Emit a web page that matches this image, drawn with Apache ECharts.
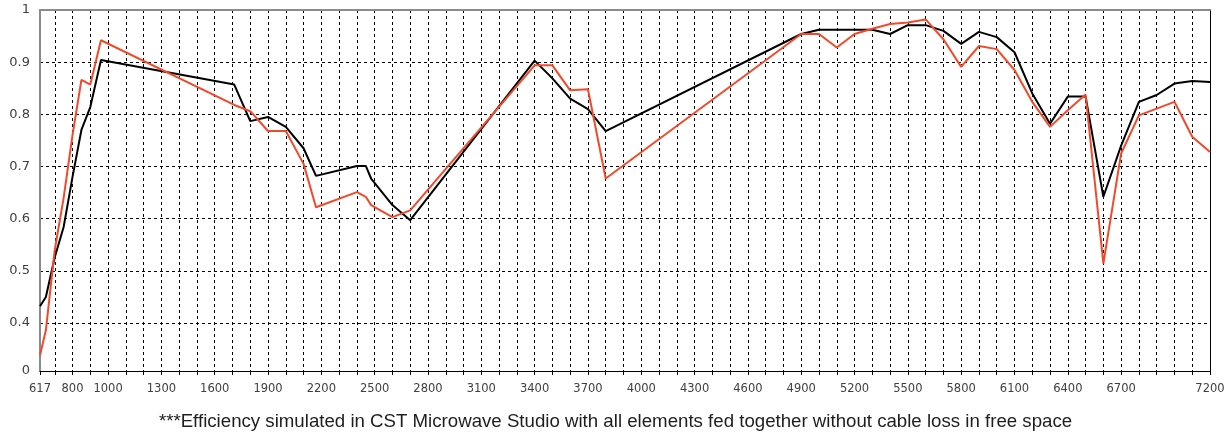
<!DOCTYPE html>
<html>
<head>
<meta charset="utf-8">
<script src="https://cdn.jsdelivr.net/npm/echarts@6/dist/echarts.min.js"></script>
<style>
html,body{margin:0;padding:0;background:#fff;}
#chart{width:1231px;height:432px;}
</style>
</head>
<body>
<div id="chart"></div>
<script>
// Frequencies (MHz)
const freq = [617,650,700,750,800,850,900,960,1710,1800,1900,2000,2100,2170,2400,2450,2480,2600,2700,3400,3500,3600,3700,3800,4900,5000,5100,5200,5300,5400,5500,5600,5700,5800,5900,6000,6100,6200,6300,6400,6500,6600,6700,6800,6900,7000,7100,7200];
// Efficiency series (black)
const effBlack = [0.432,0.450,0.526,0.584,0.680,0.770,0.814,0.904,0.857,0.787,0.795,0.776,0.735,0.682,0.701,0.701,0.677,0.626,0.597,0.903,0.869,0.830,0.810,0.768,0.954,0.962,0.962,0.962,0.962,0.954,0.971,0.971,0.960,0.935,0.958,0.948,0.919,0.840,0.782,0.834,0.834,0.642,0.740,0.824,0.837,0.859,0.864,0.862];
// Efficiency series (red)
const effRed = [0.338,0.386,0.540,0.640,0.760,0.866,0.857,0.942,0.818,0.806,0.768,0.768,0.705,0.622,0.651,0.642,0.626,0.603,0.616,0.894,0.894,0.846,0.848,0.677,0.954,0.954,0.928,0.954,0.964,0.973,0.976,0.982,0.944,0.891,0.931,0.925,0.885,0.824,0.776,0.808,0.838,0.514,0.725,0.798,0.811,0.824,0.757,0.728];
// X axis ticks / labels
const xMin = 617, xMax = 7200;
const xTickValues = [617,700,800,900,1000,1100,1200,1300,1400,1500,1600,1700,1800,1900,2000,2100,2200,2300,2400,2500,2600,2700,2800,2900,3000,3100,3200,3300,3400,3500,3600,3700,3800,3900,4000,4100,4200,4300,4400,4500,4600,4700,4800,4900,5000,5100,5200,5300,5400,5500,5600,5700,5800,5900,6000,6100,6200,6300,6400,6500,6600,6700,6800,6900,7000,7100,7200];
const xLabelValues = [617,800,1000,1300,1600,1900,2200,2500,2800,3100,3400,3700,4000,4300,4600,4900,5200,5500,5800,6100,6400,6700,7200];
// Y axis ticks / labels
const yMin = 0.308, yMax = 1;
const yTickValues = [0.308,0.4,0.5,0.6,0.7,0.8,0.9,1];
const yLabelText = ['0','0.4','0.5','0.6','0.7','0.8','0.9','1'];
const caption = '***Efficiency simulated in CST Microwave Studio with all elements fed together without cable loss in free space';

const chart = echarts.init(document.getElementById('chart'), null, {renderer:'canvas'});
const font = 'DejaVu Sans';
const option = {
  animation: false,
  backgroundColor: '#ffffff',
  title: {
    text: caption,
    left: 'center',
    top: 407,
    textStyle: {fontFamily: 'Liberation Sans', fontSize: 18.67, fontWeight: 'normal', color: '#1e1e1e'}
  },
  grid: {left: 40, right: 21, top: 10, bottom: 61, containLabel: false},
  xAxis: [{
    type: 'value', position: 'bottom', min: xMin, max: xMax,
    axisLine: {show: true, onZero: false, lineStyle: {color: '#000', width: 1}},
    axisTick: {show: true, customValues: xTickValues, length: 4, lineStyle: {color: '#000'}},
    axisLabel: {customValues: xLabelValues, margin: 12, fontFamily: font, fontSize: 11.5, color: '#404040',
      formatter: function (v) { return String(v); }},
    splitLine: {show: true, lineStyle: {color: '#000', type: [3,3], width: 1}}
  }, {
    type: 'value', position: 'top', min: xMin, max: xMax,
    axisLine: {show: true, onZero: false, lineStyle: {color: '#8a8a8a', width: 2}},
    axisTick: {show: false}, axisLabel: {show: false}, splitLine: {show: false}
  }],
  yAxis: [{
    type: 'value', position: 'left', min: yMin, max: yMax,
    axisLine: {show: true, onZero: false, lineStyle: {color: '#8a8a8a', width: 2}},
    axisTick: {show: false, customValues: yTickValues},
    axisLabel: {customValues: yTickValues, margin: 10, fontFamily: font, fontSize: 13, color: '#404040',
      formatter: function (v) { const i = yTickValues.indexOf(v); return i >= 0 ? yLabelText[i] : ''; }},
    splitLine: {show: true, lineStyle: {color: '#000', type: [3,3], width: 1}}
  }, {
    type: 'value', position: 'right', min: yMin, max: yMax,
    axisLine: {show: true, onZero: false, lineStyle: {color: '#000', width: 1}},
    axisTick: {show: false}, axisLabel: {show: false}, splitLine: {show: false}
  }],
  series: [{
    name: 'Black', type: 'line', xAxisIndex: 0, yAxisIndex: 0,
    data: freq.map((f, i) => [f, effBlack[i]]),
    showSymbol: false, symbol: 'none',
    lineStyle: {color: '#000000', width: 2}, itemStyle: {color: '#000000'}
  }, {
    name: 'Red', type: 'line', xAxisIndex: 0, yAxisIndex: 0,
    data: freq.map((f, i) => [f, effRed[i]]),
    showSymbol: false, symbol: 'none',
    lineStyle: {color: '#f2492a', width: 2}, itemStyle: {color: '#f2492a'}
  }]
};
chart.setOption(option);
</script>
</body>
</html>
